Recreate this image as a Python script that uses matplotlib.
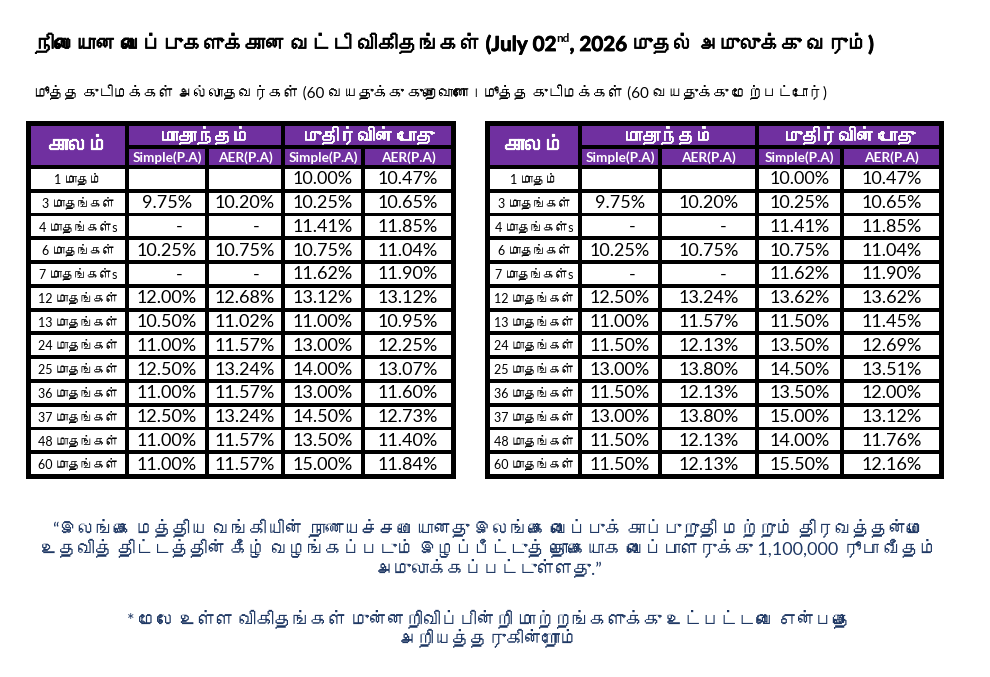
import matplotlib
matplotlib.use('Agg')
import matplotlib.pyplot as plt
import matplotlib.patheffects as pe
from matplotlib import font_manager
from matplotlib.ft2font import FT2Font
from matplotlib.patches import Rectangle

# ---- data ----
periods = ['1 மாதம்', '3 மாதங்கள்', '4 மாதங்கள்s', '6 மாதங்கள்', '7 மாதங்கள்s',
           '12 மாதங்கள்', '13 மாதங்கள்', '24 மாதங்கள்', '25 மாதங்கள்',
           '36 மாதங்கள்', '37 மாதங்கள்', '48 மாதங்கள்', '60 மாதங்கள்']

# None = empty cell, '-' = not offered
left_monthly_simple = [None, 9.75, '-', 10.25, '-', 12.00, 10.50, 11.00, 12.50, 11.00, 12.50, 11.00, 11.00]
left_monthly_aer = [None, 10.20, '-', 10.75, '-', 12.68, 11.02, 11.57, 13.24, 11.57, 13.24, 11.57, 11.57]
left_maturity_simple = [10.00, 10.25, 11.41, 10.75, 11.62, 13.12, 11.00, 13.00, 14.00, 13.00, 14.50, 13.50, 15.00]
left_maturity_aer = [10.47, 10.65, 11.85, 11.04, 11.90, 13.12, 10.95, 12.25, 13.07, 11.60, 12.73, 11.40, 11.84]

right_monthly_simple = [None, 9.75, '-', 10.25, '-', 12.50, 11.00, 11.50, 13.00, 11.50, 13.00, 11.50, 11.50]
right_monthly_aer = [None, 10.20, '-', 10.75, '-', 13.24, 11.57, 12.13, 13.80, 12.13, 13.80, 12.13, 12.13]
right_maturity_simple = [10.00, 10.25, 11.41, 10.75, 11.62, 13.62, 11.50, 13.50, 14.50, 13.50, 15.00, 14.00, 15.50]
right_maturity_aer = [10.47, 10.65, 11.85, 11.04, 11.90, 13.62, 11.45, 12.69, 13.51, 12.00, 13.12, 11.76, 12.16]

head_period = 'காலம்'
head_monthly = 'மாதாந்தம்'
head_maturity = 'முதிர்வின் போது'
sub_heads = ['Simple(P.A)', 'AER(P.A)', 'Simple(P.A)', 'AER(P.A)']

title_a = 'நிலையான வைப்புகளுக்கான வட்டி விகிதங்கள் (July 02'
title_sup = 'nd'
title_b = ', 2026 முதல் அமுலுக்கு வரும்)'
subtitle = 'மூத்த குடிமக்கள் அல்லாதவர்கள் (60 வயதுக்கு குறைவானோ।மூத்த குடிமக்கள் (60 வயதுக்கு மேற்பட்டோர்)'
note_lines = ['“இலங்கை மத்திய வங்கியின் நாணயச்சபையானது இலங்கை வைப்புக் காப்புறுதி மற்றும் திரவத்தன்மை',
              'உதவித் திட்டத்தின் கீழ் வழங்கப்படும் இழப்பீட்டுத் தொகையாக வைப்பாளருக்கு 1,100,000 ரூபா வீதம்',
              'அமுலாக்கப்பட்டுள்ளது.”']
disclaimer_lines = ['* மேலே உள்ள விகிதங்கள் முன்னறிவிப்பின்றி மாற்றங்களுக்கு உட்பட்டவை என்பதை',
                    'அறியத்தருகின்றோம்']

# ---- fonts: look for anything that can draw Tamil ----
def has_tamil(path):
    try:
        return 0x0B95 in FT2Font(path).get_charmap()
    except Exception:
        return False

tamil_fonts = []
for f in font_manager.fontManager.ttflist:
    if f.name not in tamil_fonts and ('Tamil' in f.name or has_tamil(f.fname)):
        tamil_fonts.append(f.name)
families = ['Lato'] + tamil_fonts[:2] + ['DejaVu Sans']
plt.rcParams['font.family'] = families

PURPLE = '#7030A0'
NAVY = '#1F3864'


def heavy(color, w=0.7):
    # the Tamil face has no bold, so thicken it a little
    return [pe.withStroke(linewidth=w, foreground=color)]


fig = plt.figure(figsize=(9.9, 6.77), dpi=100)
ax = fig.add_axes([0, 0, 1, 1])
ax.set_xlim(0, 990)
ax.set_ylim(677, 0)
ax.axis('off')


def fmt(v):
    if v is None:
        return ''
    if isinstance(v, str):
        return v
    return f'{v:.2f}%'


def draw_table(xs, cols):
    y_top, y_h1, y_h2, y_bot = 124, 147, 167, 476
    n = len(periods)
    row_h = (y_bot - y_h2) / n
    g = 1.9
    # black background acts as the grid
    ax.add_patch(Rectangle((xs[0] - 3, y_top - 3), xs[-1] - xs[0] + 6, y_bot - y_top + 6,
                           facecolor='black', edgecolor='none'))

    def cell(x0, x1, y0, y1, fc):
        ax.add_patch(Rectangle((x0 + g, y0 + g), x1 - x0 - 2 * g, y1 - y0 - 2 * g,
                               facecolor=fc, edgecolor='none'))

    # header
    cell(xs[0], xs[1], y_top, y_h2, PURPLE)
    ax.text((xs[0] + xs[1]) / 2, (y_top + y_h2) / 2, head_period, color='white',
            fontsize=14.5, fontweight='bold', ha='center', va='center',
            path_effects=heavy('white', 0.9))
    cell(xs[1], xs[3], y_top, y_h1, PURPLE)
    ax.text((xs[1] + xs[3]) / 2, (y_top + y_h1) / 2, head_monthly, color='white',
            fontsize=13, fontweight='bold', ha='center', va='center',
            path_effects=heavy('white', 0.6))
    cell(xs[3], xs[5], y_top, y_h1, PURPLE)
    ax.text((xs[3] + xs[5]) / 2, (y_top + y_h1) / 2, head_maturity, color='white',
            fontsize=13, fontweight='bold', ha='center', va='center',
            path_effects=heavy('white', 0.6))
    for j, lab in enumerate(sub_heads):
        cell(xs[j + 1], xs[j + 2], y_h1, y_h2, PURPLE)
        ax.text((xs[j + 1] + xs[j + 2]) / 2, (y_h1 + y_h2) / 2 + 0.5, lab, color='white',
                fontsize=9.8, fontweight='bold', ha='center', va='center')

    # body
    for i, per in enumerate(periods):
        y0 = y_h2 + i * row_h
        y1 = y0 + row_h
        yc = (y0 + y1) / 2
        cell(xs[0], xs[1], y0, y1, 'white')
        ax.text((xs[0] + xs[1]) / 2, yc, per, fontsize=9, ha='center', va='center')
        for j, col in enumerate(cols):
            x0, x1 = xs[j + 1], xs[j + 2]
            cell(x0, x1, y0, y1, 'white')
            s = fmt(col[i])
            xc = (x0 + x1) / 2
            if s == '-':
                xc += 0.15 * (x1 - x0)
            ax.text(xc, yc + 0.5, s, fontsize=13, ha='center', va='center')


left_x = [29, 127, 207, 283, 363, 453]
right_x = [488, 580, 660, 757, 842, 941]
draw_table(left_x, [left_monthly_simple, left_monthly_aer, left_maturity_simple, left_maturity_aer])
draw_table(right_x, [right_monthly_simple, right_monthly_aer, right_maturity_simple, right_maturity_aer])

# title made of pieces so the "nd" can be raised
renderer = fig.canvas.get_renderer()
t = ax.text(34, 51, title_a, fontsize=14.8, fontweight='bold', va='baseline',
            path_effects=heavy('black', 0.6))
x_next = t.get_window_extent(renderer).x1
t = ax.text(x_next + 1, 42, title_sup, fontsize=8.5, fontweight='bold', va='baseline')
x_next = t.get_window_extent(renderer).x1
ax.text(x_next, 51, title_b, fontsize=14.8, fontweight='bold', va='baseline',
        path_effects=heavy('black', 0.6))

ax.text(34, 93, subtitle, fontsize=10.9, va='center')

for k, line in enumerate(note_lines):
    ax.text(489, 529 + k * 19.5, line, fontsize=13, color=NAVY, ha='center', va='center')
for k, line in enumerate(disclaimer_lines):
    ax.text(489, 620 + k * 19, line, fontsize=13, color=NAVY, ha='center', va='center')

fig.savefig('out.png', dpi=100)
